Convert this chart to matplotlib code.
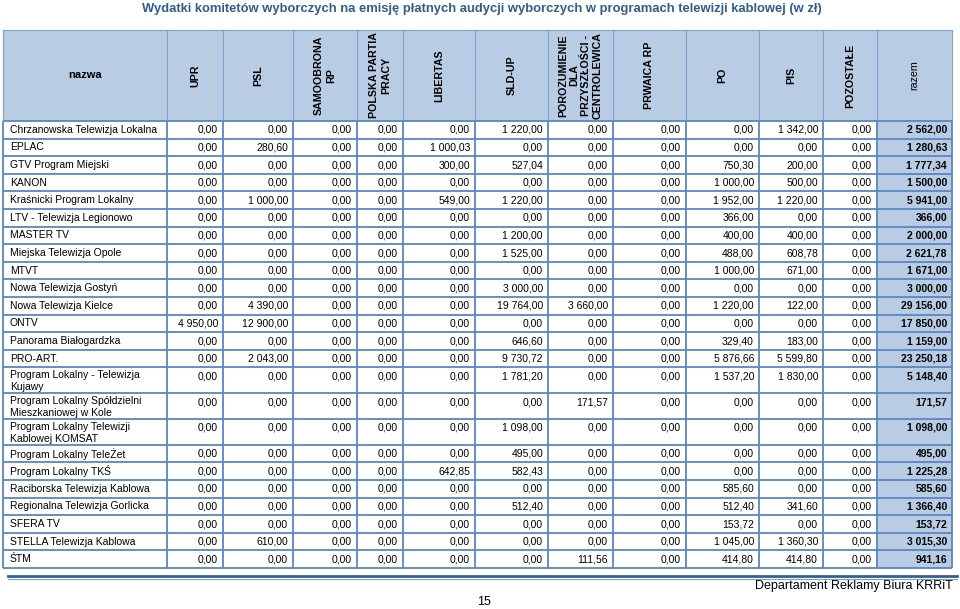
import matplotlib
matplotlib.use("Agg")
import matplotlib.pyplot as plt
from matplotlib.patches import Rectangle

headers = ["nazwa", "UPR", "PSL", "SAMOOBRONA\nRP", "POLSKA PARTIA\nPRACY", "LIBERTAS",
           "SLD-UP", "POROZUMIENIE\nDLA\nPRZYSZŁOŚCI -\nCENTROLEWICA", "PRWAICA RP",
           "PO", "PIS", "POZOSTAŁE", "razem"]

names = ["Chrzanowska Telewizja Lokalna", "EPLAC", "GTV Program Miejski", "KANON",
         "Kraśnicki Program Lokalny", "LTV - Telewizja Legionowo", "MASTER TV",
         "Miejska Telewizja Opole", "MTVT", "Nowa Telewizja Gostyń", "Nowa Telewizja Kielce",
         "ONTV", "Panorama Białogardzka", "PRO-ART.",
         "Program Lokalny - Telewizja\nKujawy", "Program Lokalny Spółdzielni\nMieszkaniowej w Kole",
         "Program Lokalny Telewizji\nKablowej KOMSAT", "Program Lokalny TeleŻet",
         "Program Lokalny TKŚ", "Raciborska Telewizja Kablowa", "Regionalna Telewizja Gorlicka",
         "SFERA TV", "STELLA Telewizja Kablowa", "ŚTM"]

upr = [0, 0, 0, 0, 0, 0, 0, 0, 0, 0, 0, 4950, 0, 0, 0, 0, 0, 0, 0, 0, 0, 0, 0, 0]
psl = [0, 280.60, 0, 0, 1000, 0, 0, 0, 0, 0, 4390, 12900, 0, 2043, 0, 0, 0, 0, 0, 0, 0, 0, 610, 0]
samoobrona = [0] * 24
ppp = [0] * 24
libertas = [0, 1000.03, 300, 0, 549, 0, 0, 0, 0, 0, 0, 0, 0, 0, 0, 0, 0, 0, 642.85, 0, 0, 0, 0, 0]
sld = [1220, 0, 527.04, 0, 1220, 0, 1200, 1525, 0, 3000, 19764, 0, 646.60, 9730.72,
       1781.20, 0, 1098, 495, 582.43, 0, 512.40, 0, 0, 0]
porozumienie = [0, 0, 0, 0, 0, 0, 0, 0, 0, 0, 3660, 0, 0, 0, 0, 171.57, 0, 0, 0, 0, 0, 0, 0, 111.56]
prawica = [0] * 24
po = [0, 0, 750.30, 1000, 1952, 366, 400, 488, 1000, 0, 1220, 0, 329.40, 5876.66,
      1537.20, 0, 0, 0, 0, 585.60, 512.40, 153.72, 1045, 414.80]
pis = [1342, 0, 200, 500, 1220, 0, 400, 608.78, 671, 0, 122, 0, 183, 5599.80,
       1830, 0, 0, 0, 0, 0, 341.60, 0, 1360.30, 414.80]
pozostale = [0] * 24
razem = [2562, 1280.63, 1777.34, 1500, 5941, 366, 2000, 2621.78, 1671, 3000, 29156, 17850,
         1159, 23250.18, 5148.40, 171.57, 1098, 495, 1225.28, 585.60, 1366.40, 153.72,
         3015.30, 941.16]

columns = [upr, psl, samoobrona, ppp, libertas, sld, porozumienie, prawica, po, pis, pozostale, razem]


def fmt(v):
    s = f"{v:,.2f}"
    return s.replace(",", " ").replace(".", ",")


# --- layout (pixels) ---
W, H = 960, 609
col_x = [3, 167, 223, 293, 357, 403, 475, 548, 613, 686, 759, 823, 877, 952]
head_top, head_bot = 30, 121
single_h, double_h = 17.6, 25.8

blue_fill = "#b8cce4"
grid = "#5a86c2"
fs = 7.5
font = ["Liberation Sans", "DejaVu Sans"]

fig = plt.figure(figsize=(W / 100, H / 100), dpi=100)
ax = fig.add_axes([0, 0, 1, 1])
ax.set_xlim(0, W)
ax.set_ylim(H, 0)
ax.axis("off")

# title
ax.text(482, 9, "Wydatki komitetów wyborczych na emisję płatnych audycji wyborczych w programach telewizji kablowej (w zł)",
        ha="center", va="center", fontsize=9.4, fontweight="bold", color="#2f5d8c", family=font)

# header
ax.add_patch(Rectangle((col_x[0], head_top), col_x[-1] - col_x[0], head_bot - head_top,
                       facecolor=blue_fill, edgecolor="none"))
for i, h in enumerate(headers):
    cx = (col_x[i] + col_x[i + 1]) / 2
    cy = (head_top + head_bot) / 2
    if i == 0:
        ax.text(cx, cy, h, ha="center", va="center", fontsize=fs + 0.5, fontweight="bold", family=font)
    else:
        ax.text(cx, cy, h, ha="center", va="center", rotation=90, multialignment="center",
                fontsize=fs + 0.2, fontweight="bold" if h != "razem" else "normal",
                family=font, linespacing=1.2)
for x in col_x:
    ax.plot([x, x], [head_top, head_bot], color="#7fa0cf", lw=0.8)
ax.plot([col_x[0], col_x[-1]], [head_top, head_top], color="#7fa0cf", lw=0.8)

# body
row_tops = []
y = head_bot
for n in names:
    row_tops.append(y)
    y += double_h if "\n" in n else single_h
table_bot = y

ax.add_patch(Rectangle((col_x[-2], head_bot), col_x[-1] - col_x[-2], table_bot - head_bot,
                       facecolor=blue_fill, edgecolor="none"))

for r, n in enumerate(names):
    top = row_tops[r]
    yc = top + single_h / 2
    if "\n" in n:
        ax.text(col_x[0] + 7, top + 3, n, ha="left", va="top", fontsize=fs, family=font, linespacing=1.25)
    else:
        ax.text(col_x[0] + 7, yc, n, ha="left", va="center", fontsize=fs, family=font)
    for c, vals in enumerate(columns):
        ax.text(col_x[c + 2] - 5, yc, fmt(vals[r]), ha="right", va="center", fontsize=fs,
                family=font, fontweight="bold" if c == len(columns) - 1 else "normal")

for yy in row_tops + [table_bot]:
    ax.plot([col_x[0], col_x[-1]], [yy, yy], color=grid, lw=1.3, solid_capstyle="butt")
for x in col_x:
    ax.plot([x, x], [head_bot, table_bot], color=grid, lw=1.3, solid_capstyle="butt")

# double rule under the table
ax.plot([8, 957], [table_bot + 8, table_bot + 8], color="#365f91", lw=2.0)
ax.plot([8, 957], [table_bot + 10.5, table_bot + 10.5], color="#7f9fc8", lw=0.8)

ax.text(953, 586, "Departament Reklamy Biura KRRiT", ha="right", va="center", fontsize=9, family=font)
ax.text(484, 602, "15", ha="center", va="center", fontsize=9, family=font)

fig.savefig("out.png", dpi=100, facecolor="white")
